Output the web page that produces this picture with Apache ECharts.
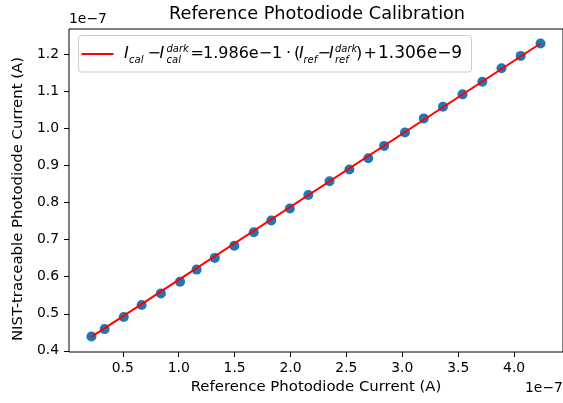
<!DOCTYPE html>
<html>
<head>
<meta charset="utf-8">
<script src="https://cdn.jsdelivr.net/npm/echarts@6/dist/echarts.min.js"></script>
<style>
  html, body { margin: 0; padding: 0; background: #fff; }
  #chart { width: 563px; height: 403px; }
</style>
</head>
<body>
<div id="chart"></div>
<script>
// Currents in units of 1e-7 A
const refCurrent = [
  0.2195, 0.3376, 0.5088, 0.6686, 0.8407, 1.0120, 1.1602, 1.3226, 1.4974,
  1.6713, 1.8284, 1.9943, 2.1594, 2.3493, 2.5268, 2.6954, 2.8374, 3.0237,
  3.1923, 3.3636, 3.5384, 3.7158, 3.8871, 4.0584, 4.2359
];
const nistCurrent = [
  0.4387, 0.4587, 0.4912, 0.5236, 0.5550, 0.5867, 0.6192, 0.6508, 0.6833,
  0.7201, 0.7517, 0.7842, 0.8202, 0.8573, 0.8889, 0.9195, 0.9528, 0.9890,
  1.0269, 1.0583, 1.0918, 1.1259, 1.1622, 1.1955, 1.2287
];
// Fitted calibration line, end points
const fitX = [0.2195, 4.2359];
const fitY = [0.438, 1.229];

const xTicks = [0.5, 1.0, 1.5, 2.0, 2.5, 3.0, 3.5, 4.0];
const yTicks = [0.4, 0.5, 0.6, 0.7, 0.8, 0.9, 1.0, 1.1, 1.2];

const FONT = '"DejaVu Sans", "Liberation Sans", sans-serif';
const INK = '#000';

const chart = echarts.init(document.getElementById('chart'), null, { renderer: 'canvas' });

function txt(text, x, y, size, italic) {
  return {
    type: 'text',
    z: 101,
    style: {
      text: text,
      x: x,
      y: y,
      fill: INK,
      font: (italic ? 'italic ' : '') + size + 'px ' + FONT,
      textAlign: 'left',
      textVerticalAlign: 'middle'
    }
  };
}

const MAIN = 16, SMALL = 10;
const yMain = 53.5, ySub = 60, ySup = 49;

// Legend box with the fit equation written as mathtext-like pieces
const legendGroup = [
  {
    type: 'rect', z: 100,
    shape: { x: 78.5, y: 35.5, width: 393, height: 36.5, r: 3 },
    style: { fill: 'rgba(255,255,255,0.8)', stroke: '#cccccc', lineWidth: 1 }
  },
  {
    type: 'line', z: 101,
    shape: { x1: 81.5, y1: 54, x2: 113.5, y2: 54 },
    style: { stroke: '#ff0000', lineWidth: 2 }
  },
  txt('I', 124, yMain, MAIN, true),
  txt('cal', 129, ySub, SMALL, true),
  txt('\u2212', 147.5, yMain, MAIN, false),
  txt('I', 159.5, yMain, MAIN, true),
  txt('dark', 166.5, ySup, SMALL, true),
  txt('cal', 166.5, ySub, SMALL, true),
  txt('=', 190.5, yMain, MAIN, false),
  txt('1.986e\u22121', 203, yMain, MAIN, false),
  txt('\u00b7', 286, yMain, MAIN, false),
  txt('(', 294, yMain, MAIN, false),
  txt('I', 299, yMain, MAIN, true),
  txt('ref', 303.5, ySub, SMALL, true),
  txt('\u2212', 317.5, yMain, MAIN, false),
  txt('I', 329, yMain, MAIN, true),
  txt('dark', 335, ySup, SMALL, true),
  txt('ref', 335, ySub, SMALL, true),
  txt(')', 356, yMain, MAIN, false),
  txt('+', 363.5, yMain, MAIN, false),
  txt('1.306e\u22129', 378, yMain, 17, false)
];

const option = {
  animation: false,
  backgroundColor: '#fff',
  title: {
    text: 'Reference Photodiode Calibration',
    left: 169,
    top: 5,
    padding: 0,
    textStyle: { fontFamily: FONT, fontSize: 17.7, fontWeight: 'normal', color: INK }
  },
  grid: {
    left: 69, top: 29, width: 498, height: 323,
    show: true, borderColor: INK, borderWidth: 1, backgroundColor: 'transparent'
  },
  xAxis: {
    type: 'value',
    min: 0.019, max: 4.437,
    name: 'Reference Photodiode Current (A)',
    nameLocation: 'middle',
    nameGap: 28,
    nameTextStyle: { fontFamily: FONT, fontSize: 14.9, color: INK },
    axisLine: { show: false },
    splitLine: { show: false },
    axisTick: { show: true, inside: false, length: 5, customValues: xTicks, lineStyle: { color: INK, width: 1 } },
    axisLabel: {
      customValues: xTicks,
      formatter: v => v.toFixed(1),
      fontFamily: FONT, fontSize: 13.9, color: INK, margin: 9,
      showMinLabel: true, showMaxLabel: true
    }
  },
  yAxis: {
    type: 'value',
    min: 0.397, max: 1.268,
    name: 'NIST-traceable Photodiode Current (A)',
    nameLocation: 'middle',
    nameGap: 41,
    nameTextStyle: { fontFamily: FONT, fontSize: 14.9, color: INK, padding: [0, 17, 0, 0] },
    axisLine: { show: false },
    splitLine: { show: false },
    axisTick: { show: true, inside: false, length: 5, customValues: yTicks, lineStyle: { color: INK, width: 1 } },
    axisLabel: {
      customValues: yTicks,
      formatter: v => v.toFixed(1),
      fontFamily: FONT, fontSize: 13.9, color: INK, margin: 10,
      showMinLabel: true, showMaxLabel: true
    }
  },
  graphic: [
    {
      type: 'text', left: 69, top: 12,
      style: { text: '1e\u22127', fill: INK, font: '13.9px ' + FONT }
    },
    {
      type: 'text', left: 525, top: 381,
      style: { text: '1e\u22127', fill: INK, font: '13.9px ' + FONT }
    },
    ...legendGroup
  ],
  series: [
    {
      name: 'measured',
      type: 'scatter',
      data: refCurrent.map((x, i) => [x, nistCurrent[i]]),
      symbol: 'circle',
      symbolSize: 10,
      itemStyle: { color: '#1f77b4', opacity: 1 },
      z: 2
    },
    {
      name: 'fit',
      type: 'line',
      data: fitX.map((x, i) => [x, fitY[i]]),
      showSymbol: false,
      symbol: 'none',
      lineStyle: { color: '#ff0000', width: 2 },
      z: 3
    }
  ]
};

chart.setOption(option);
</script>
</body>
</html>
